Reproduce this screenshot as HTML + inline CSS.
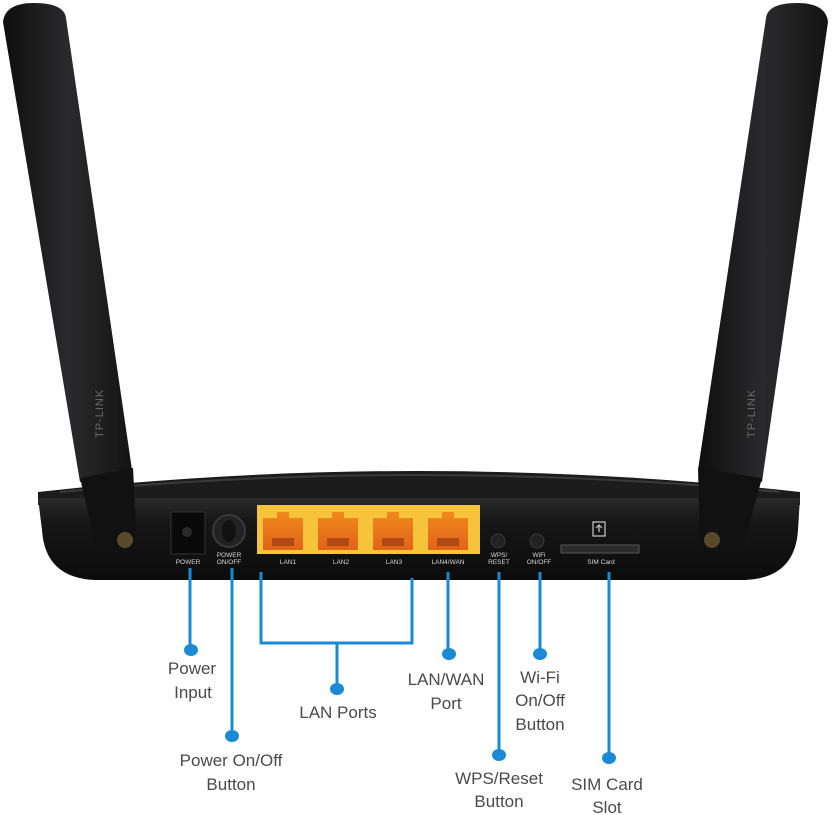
<!DOCTYPE html>
<html><head><meta charset="utf-8"><style>
html,body{margin:0;padding:0;background:#fff;}
svg{display:block;}
text{font-family:"Liberation Sans",sans-serif;}
</style></head><body>
<svg width="832" height="815" viewBox="0 0 832 815" xmlns="http://www.w3.org/2000/svg">
<defs>
<linearGradient id="ant" x1="0" x2="1" y1="0" y2="0">
<stop offset="0" stop-color="#0e0e0e"/><stop offset="0.5" stop-color="#2a2a2c"/><stop offset="1" stop-color="#141414"/>
</linearGradient>
<linearGradient id="body" x1="0" x2="0" y1="0" y2="1">
<stop offset="0" stop-color="#2a2a2a"/><stop offset="0.3" stop-color="#161616"/><stop offset="1" stop-color="#0c0c0c"/>
</linearGradient>
<linearGradient id="port" x1="0" x2="0" y1="0" y2="1">
<stop offset="0" stop-color="#f08a1c"/><stop offset="1" stop-color="#e2621a"/>
</linearGradient>
</defs>

<!-- router body lid -->
<path d="M38 492 Q415 450 800 492 L800 505 L38 505 Z" fill="#1c1c1c"/>
<path d="M38 498 L800 498 L798 530 Q795 578 745 580 L95 580 Q45 578 42 530 Z" fill="url(#body)"/>
<path d="M60 492 Q415 458 780 492" stroke="#3a3a3a" stroke-width="2" fill="none"/>

<!-- left antenna -->
<path d="M3 22 Q5 3 34 3 Q64 3 66 18 L132 470 L80 482 Z" fill="url(#ant)"/>
<path d="M80 478 L133 468 L137 545 Q118 556 97 550 Z" fill="#111"/>
<circle cx="125" cy="540" r="8" fill="#5a4a2a"/>
<text x="0" y="0" transform="translate(103,438) rotate(-90)" fill="#6b6b6b" font-size="11" letter-spacing="1">TP-LINK</text>

<!-- right antenna -->
<path d="M766 18 Q768 3 797 3 Q826 3 828 22 L762 482 L698 470 Z" fill="url(#ant)"/>
<path d="M698 468 L762 478 L742 552 Q722 556 700 548 Z" fill="#111"/>
<circle cx="712" cy="540" r="8" fill="#5a4a2a"/>
<text x="0" y="0" transform="translate(755,438) rotate(-90)" fill="#6b6b6b" font-size="11" letter-spacing="1">TP-LINK</text>

<!-- power jack -->
<rect x="171" y="512" width="34" height="42" fill="#0a0a0a" stroke="#333" stroke-width="1"/>
<circle cx="187" cy="532" r="5" fill="#2a2a2a"/>
<!-- power button -->
<circle cx="229" cy="531" r="16" fill="#222" stroke="#3a3a3a" stroke-width="2"/>
<ellipse cx="229" cy="531" rx="7" ry="11" fill="#111"/>

<!-- LAN block -->
<rect x="257" y="505" width="223" height="49" fill="#f6c33a"/>
<g fill="url(#port)">
<path d="M263 518 h14 v-6 h12 v6 h14 v32 h-40 z"/>
<path d="M318 518 h14 v-6 h12 v6 h14 v32 h-40 z"/>
<path d="M373 518 h14 v-6 h12 v6 h14 v32 h-40 z"/>
<path d="M428 518 h14 v-6 h12 v6 h14 v32 h-40 z"/>
</g>
<g fill="#b04a12">
<rect x="272" y="538" width="22" height="8"/><rect x="327" y="538" width="22" height="8"/>
<rect x="382" y="538" width="22" height="8"/><rect x="437" y="538" width="22" height="8"/>
</g>

<!-- buttons -->
<circle cx="498" cy="541" r="7" fill="#222" stroke="#3a3a3a"/>
<circle cx="537" cy="541" r="7" fill="#222" stroke="#3a3a3a"/>
<!-- SIM -->
<rect x="593" y="522" width="12" height="14" fill="none" stroke="#ccc" stroke-width="1.2"/>
<path d="M599 532 v-7 M596 528 l3 -3 3 3" stroke="#ccc" stroke-width="1.2" fill="none"/>
<rect x="561" y="545" width="78" height="8" fill="#2a2a2a" stroke="#555"/>

<g fill="#d8d8d8" font-size="6.5" text-anchor="middle">
<text x="188" y="564">POWER</text>
<text x="229" y="557">POWER</text><text x="229" y="564">ON/OFF</text>
<text x="288" y="564">LAN1</text><text x="341" y="564">LAN2</text>
<text x="394" y="564">LAN3</text><text x="448" y="564">LAN4/WAN</text>
<text x="499" y="557">WPS/</text><text x="499" y="564">RESET</text>
<text x="539" y="557">WiFi</text><text x="539" y="564">ON/OFF</text>
<text x="601" y="564">SIM Card</text>
</g>

<!-- connectors -->
<g stroke="#1a8ad4" stroke-width="3" fill="none">
<path d="M190 568 V650"/>
<path d="M232 568 V735"/>
<path d="M261 572 V643 H412 V578"/>
<path d="M337 643 V688"/>
<path d="M448 572 V653"/>
<path d="M499 572 V755"/>
<path d="M540 572 V653"/>
<path d="M609 572 V758"/>
</g>
<g fill="#1a8ad4">
<ellipse cx="191" cy="650" rx="7" ry="6"/>
<ellipse cx="232" cy="736" rx="7" ry="6"/>
<ellipse cx="337" cy="689" rx="7" ry="6"/>
<ellipse cx="449" cy="654" rx="7" ry="6"/>
<ellipse cx="499" cy="755" rx="7" ry="6"/>
<ellipse cx="540" cy="654" rx="7" ry="6"/>
<ellipse cx="609" cy="758" rx="7" ry="6"/>
</g>

<g fill="#4a4a4a" font-size="17" text-anchor="middle">
<text x="192" y="674">Power</text><text x="193" y="698">Input</text>
<text x="231" y="766">Power On/Off</text><text x="231" y="790">Button</text>
<text x="338" y="718">LAN Ports</text>
<text x="446" y="685">LAN/WAN</text><text x="446" y="709">Port</text>
<text x="540" y="683">Wi-Fi</text><text x="540" y="706">On/Off</text><text x="540" y="730">Button</text>
<text x="499" y="784">WPS/Reset</text><text x="499" y="807">Button</text>
<text x="607" y="790">SIM Card</text><text x="607" y="813">Slot</text>
</g>
</svg>
</body></html>
